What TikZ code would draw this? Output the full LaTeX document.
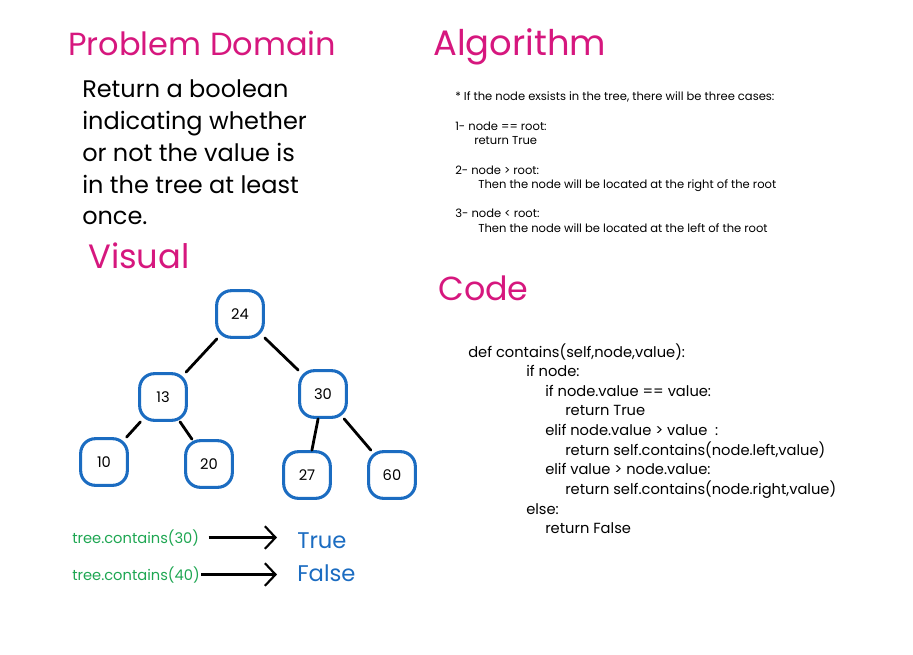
\documentclass[tikz,border=0pt]{standalone}
\usepackage{fontspec}
\setmainfont{Poppins}
\usetikzlibrary{arrows.meta,positioning}
\definecolor{bsTitle}{HTML}{D6177E}
\definecolor{bsBlue}{HTML}{1B6CC1}
\definecolor{bsGreen}{HTML}{1EA652}
\tikzset{
  heading/.style={text=bsTitle, font=\fontsize{24}{30}\selectfont, anchor=base west, inner sep=0pt},
  prose/.style={font=\fontsize{18}{24}\selectfont, anchor=base west, inner sep=0pt},
  algo/.style={font=\fontsize{8.65}{10}\selectfont, anchor=base west, inner sep=0pt},
  code/.style={font=\fontsize{11}{13}\selectfont, anchor=base west, inner sep=0pt},
  bstnode/.style={draw=bsBlue, line width=2.3pt, rounded corners=11pt,
    minimum size=35pt, inner sep=0pt, font=\fontsize{11}{13}\selectfont},
  bstedge/.style={line width=2.1pt, black, line cap=round},
  call/.style={text=bsGreen, font=\fontsize{11}{13}\selectfont, inner sep=0pt, anchor=base west},
  result/.style={text=bsBlue, font=\fontsize{17}{20}\selectfont, inner sep=0pt, anchor=base west},
  resarrow/.style={-{Straight Barb[length=8pt, width=17pt, line width=1.6pt]}, line width=1.6pt,
    shorten <=7pt, shorten >=15pt}
}
\begin{document}
\begin{tikzpicture}[x=0.75pt, y=-0.75pt]
  \useasboundingbox (0,0) rectangle (913,654);

  % problem domain
  \node[heading] (domain) at (68,55) {Problem Domain};
  \foreach \ln/\yy/\tt in {1/97/{Return a boolean}, 2/129/{indicating whether},
      3/161/{or not the value is}, 4/193/{in the tree at least}, 5/224/{once.}}
    \node[prose] (prob\ln) at (82,\yy) {\tt};

  % algorithm
  \node[heading, font=\fontsize{26.5}{32}\selectfont] (algorithm) at (433,55) {Algorithm};
  \foreach \ln/\xx/\yy/\tt in {1/455/100/{* If the node exsists in the tree, there will be three cases:},
      2/455/130/{1- node == root:}, 3/474/144/{return True},
      4/455/174/{2- node > root:}, 5/478/188/{Then the node will be located at the right of the root},
      6/455/217/{3- node < root:}, 7/478/232/{Then the node will be located at the left of the root}}
    \node[algo] (alg\ln) at (\xx,\yy) {\tt};

  % code
  \node[heading, font=\fontsize{25}{30}\selectfont] (code) at (438,300) {Code};
  \foreach \ln/\xx/\yy/\tt in {1/468/357/{def contains(self,node,value):},
      2/526/376/{if node:}, 3/545/396/{if node.value == value:},
      4/565/415/{return True}, 5/545/435/{elif node.value > value~~:},
      6/565/455/{return self.contains(node.left,value)},
      7/545/474/{elif value > node.value:},
      8/565/494/{return self.contains(node.right,value)},
      9/526/514/{else:}, 10/545/533/{return False}}
    \node[code] (src\ln) at (\xx,\yy) {\tt};

  % visual
  \node[heading, font=\fontsize{25.3}{30}\selectfont] (visual) at (88,268) {Visual};
  \node[bstnode] (n24) at (240,314) {24};
  \node[bstnode] (n13) at (163,397) {13};
  \node[bstnode] (n30) at (323,394) {30};
  \node[bstnode] (n10) at (104,462) {10};
  \node[bstnode] (n20) at (209,464) {20};
  \node[bstnode] (n27) at (307,475) {27};
  \node[bstnode] (n60) at (392,475) {60};
  \draw[bstedge] (n24) -- (n13);
  \draw[bstedge] (n24) -- (n30);
  \draw[bstedge] (n13) -- (n10);
  \draw[bstedge] (n13) -- (n20);
  \draw[bstedge] (n30) -- (n27);
  \draw[bstedge] (n30) -- (n60);

  % examples
  \node[call] (call30) at (72,543) {tree.contains(30)};
  \node[result] (res30) at (297,548) {True};
  \node[call] (call40) at (72,580) {tree.contains(40)};
  \node[result] (res40) at (297,581) {False};
  \draw[resarrow] (call30.east) -- (call30.east -| res30.west);
  \draw[resarrow, shorten <=1pt] (call40.east) -- (call40.east -| res40.west);
\end{tikzpicture}
\end{document}
